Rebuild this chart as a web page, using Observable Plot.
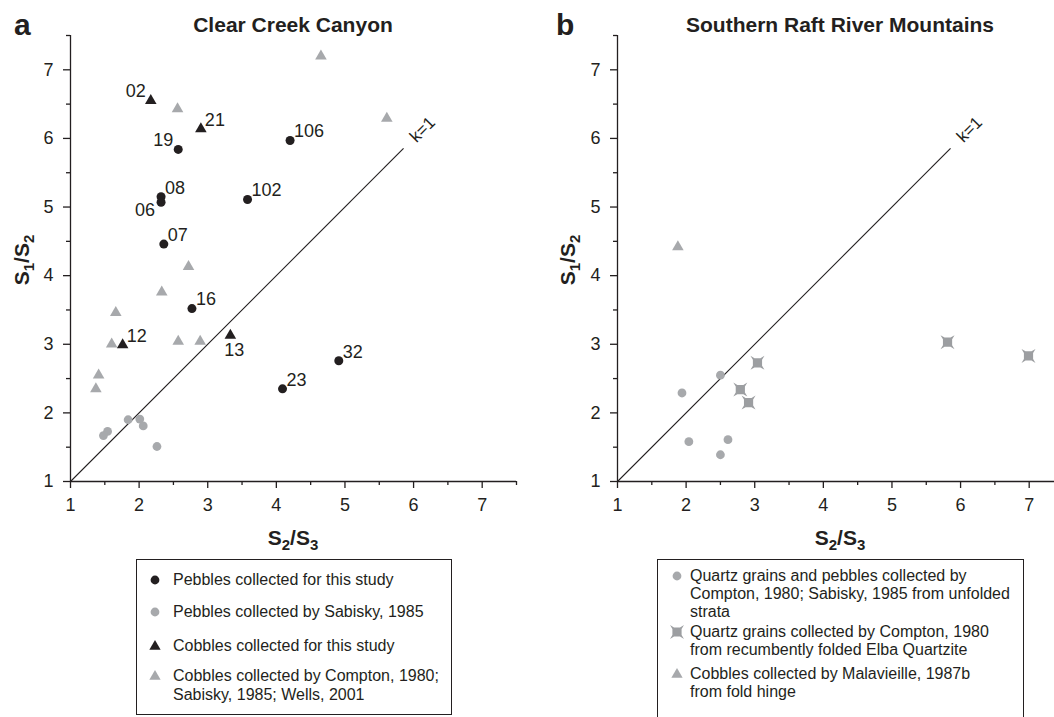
<!DOCTYPE html>
<html>
<head>
<meta charset="utf-8">
<script src="https://cdn.jsdelivr.net/npm/d3@7"></script>
<script src="https://cdn.jsdelivr.net/npm/@observablehq/plot@0.6"></script>
<style>
  html, body { margin: 0; padding: 0; background: #fff; overflow: hidden; }
  #root { position: relative; width: 1054px; height: 717px; overflow: hidden; background: #fff;
          font-family: "Liberation Sans", Arial, Helvetica, sans-serif; color: #231f20; }
  .abs { position: absolute; white-space: nowrap; }
  .title { font-weight: bold; font-size: 21px; transform: translate(-50%, -50%); }
  .panel { font-weight: bold; font-size: 30px; transform: translateY(-50%); }
  .axlab { font-weight: bold; font-size: 21px; }
  .axlab sub { font-size: 15px; vertical-align: -5px; line-height: 0; }
  .box { position: absolute; border: 1.2px solid #231f20; box-sizing: border-box; }
  .leg { position: absolute; font-size: 16px; white-space: nowrap; transform: translateY(-50%); }
  .sym { position: absolute; transform: translate(-50%, -50%); }
</style>
</head>
<body>
<div id="root"></div>
<script>
// ---------------- DATA ----------------
// Panel a : Clear Creek Canyon
const pebThisX   = [2.57, 4.20, 2.32, 2.32, 3.58, 2.36, 2.77, 4.91, 4.09];
const pebThisY   = [5.84, 5.97, 5.15, 5.07, 5.11, 4.46, 3.52, 2.76, 2.35];
const pebThisLbl = ["19", "106", "08", "06", "102", "07", "16", "32", "23"];
const pebThisPos = ["nw", "ne", "ne", "sw", "ne", "ne", "ne", "ne", "ne"];

const pebSabX = [1.84, 2.01, 2.06, 1.54, 1.48, 2.26];
const pebSabY = [1.90, 1.91, 1.81, 1.73, 1.67, 1.51];

const cobThisX   = [2.17, 2.90, 1.76, 3.33];
const cobThisY   = [6.55, 6.14, 2.99, 3.13];
const cobThisLbl = ["02", "21", "12", "13"];
const cobThisPos = ["nw", "ne", "ne", "s"];

const cobOtherX = [4.65, 2.56, 5.61, 2.72, 2.33, 1.66, 1.60, 2.57, 2.89, 1.41, 1.37];
const cobOtherY = [7.20, 6.43, 6.29, 4.13, 3.76, 3.46, 3.00, 3.04, 3.04, 2.55, 2.35];

// Panel b : Southern Raft River Mountains
const qzUnfX = [1.94, 2.50, 2.04, 2.61, 2.50];
const qzUnfY = [2.29, 2.55, 1.58, 1.61, 1.39];

const qzFoldX = [3.04, 2.79, 2.91, 5.81, 6.99];
const qzFoldY = [2.73, 2.34, 2.15, 3.03, 2.83];

const cobHingeX = [1.88];
const cobHingeY = [4.42];

// k = 1 reference line and axis ticks
const kLine = [1, 5.85];
const kLabelAt = [6.13];
const kLabel = "k=1";
const majorTicks = [1, 2, 3, 4, 5, 6, 7];
const minorTicks = [1.5, 2.5, 3.5, 4.5, 5.5, 6.5, 7.5];
const axisDomain = [1, 7.5];

const titleA = "Clear Creek Canyon";
const titleB = "Southern Raft River Mountains";
const legendA = [
  ["Pebbles collected for this study"],
  ["Pebbles collected by Sabisky, 1985"],
  ["Cobbles collected for this study"],
  ["Cobbles collected by Compton, 1980;", "Sabisky, 1985; Wells, 2001"]
];
const legendB = [
  ["Quartz grains and pebbles collected by", "Compton, 1980; Sabisky, 1985 from unfolded", "strata"],
  ["Quartz grains collected by Compton, 1980", "from recumbently folded Elba Quartzite"],
  ["Cobbles collected by Malavieille, 1987b", "from fold hinge"]
];

// ---------------- STYLE ----------------
const BLACK = "#231f20";
const GRAY = "#a7a9ac";
const STARGRAY = "#9c9ea1";
const FONT = "'Liberation Sans', Arial, Helvetica, sans-serif";

const starSymbol = {
  draw(ctx) {
    const h = 4.6, t = 7, c = 1.6;
    ctx.moveTo(-t, -t); ctx.lineTo(-h + c, -h); ctx.lineTo(h - c, -h);
    ctx.lineTo(t, -t); ctx.lineTo(h, -h + c); ctx.lineTo(h, h - c);
    ctx.lineTo(t, t); ctx.lineTo(h - c, h); ctx.lineTo(-h + c, h);
    ctx.lineTo(-t, t); ctx.lineTo(-h, h - c); ctx.lineTo(-h, -h + c);
    ctx.closePath();
  }
};

const zip = (xs, ys, extra = {}) => xs.map((x, i) => {
  const o = {x, y: ys[i]};
  for (const k in extra) o[k] = extra[k][i];
  return o;
});

const intFmt = d3.format("d");

function baseMarks() {
  const line = kLine.map(v => ({x: v, y: v}));
  const lab = kLabelAt.map(v => ({x: v, y: v, t: kLabel}));
  return [
    Plot.line(line, {x: "x", y: "y", stroke: BLACK, strokeWidth: 1.1}),
    Plot.text(lab, {x: "x", y: "y", text: "t", rotate: -45, fontSize: 17, fill: BLACK}),
    Plot.ruleX([axisDomain[0]], {stroke: BLACK, strokeWidth: 1.3}),
    Plot.ruleY([axisDomain[0]], {stroke: BLACK, strokeWidth: 1.3}),
    Plot.axisX({ticks: majorTicks, tickFormat: intFmt, tickSize: 7, tickPadding: 10, label: null, fontSize: 18, stroke: BLACK, fill: BLACK, strokeWidth: 1.3}),
    Plot.axisX({ticks: minorTicks, tickSize: 4, tickFormat: () => "", label: null, stroke: BLACK, strokeWidth: 1.3}),
    Plot.axisY({ticks: majorTicks, tickFormat: intFmt, tickSize: 7, tickPadding: 10, label: null, fontSize: 18, stroke: BLACK, fill: BLACK, strokeWidth: 1.3}),
    Plot.axisY({ticks: minorTicks, tickSize: 4, tickFormat: () => "", label: null, stroke: BLACK, strokeWidth: 1.3})
  ];
}

function labelMarks(data) {
  const place = {
    ne: {textAnchor: "start", dx: 4, dy: -9},
    nw: {textAnchor: "end", dx: -5, dy: -9},
    sw: {textAnchor: "end", dx: -6, dy: 8},
    s:  {textAnchor: "middle", dx: 4, dy: 15}
  };
  return Object.keys(place).map(p =>
    Plot.text(data.filter(d => d.pos === p), {x: "x", y: "y", text: "lbl", fontSize: 18, fill: BLACK, ...place[p]}));
}

const common = {
  width: 527, height: 555,
  marginLeft: 70, marginTop: 35, marginRight: 11, marginBottom: 74,
  x: {domain: axisDomain, axis: null},
  y: {domain: axisDomain, axis: null},
  style: {fontFamily: FONT, fontSize: "18px", background: "transparent", overflow: "visible"}
};

const pebThis = zip(pebThisX, pebThisY, {lbl: pebThisLbl, pos: pebThisPos});
const cobThis = zip(cobThisX, cobThisY, {lbl: cobThisLbl, pos: cobThisPos});

const plotA = Plot.plot({
  ...common,
  marks: [
    ...baseMarks(),
    Plot.dot(zip(pebSabX, pebSabY), {x: "x", y: "y", r: 4.4, fill: GRAY}),
    Plot.dot(zip(cobOtherX, cobOtherY), {x: "x", y: "y", r: 4.3, symbol: "triangle", fill: GRAY}),
    Plot.dot(pebThis, {x: "x", y: "y", r: 4.5, fill: BLACK}),
    Plot.dot(cobThis, {x: "x", y: "y", r: 4.3, symbol: "triangle", fill: BLACK}),
    ...labelMarks(pebThis),
    ...labelMarks(cobThis)
  ]
});

const plotB = Plot.plot({
  ...common,
  marks: [
    ...baseMarks(),
    Plot.dot(zip(qzUnfX, qzUnfY), {x: "x", y: "y", r: 4.4, fill: GRAY}),
    Plot.dot(zip(qzFoldX, qzFoldY), {x: "x", y: "y", symbol: starSymbol, fill: STARGRAY}),
    Plot.dot(zip(cobHingeX, cobHingeY), {x: "x", y: "y", r: 4.3, symbol: "triangle", fill: GRAY})
  ]
});

// ---------------- LAYOUT ----------------
const root = document.getElementById("root");
function place(el, left, top) { el.style.position = "absolute"; el.style.left = left + "px"; el.style.top = top + "px"; root.appendChild(el); return el; }
function div(cls, html, left, top) { const d = document.createElement("div"); d.className = cls; d.innerHTML = html; return place(d, left, top); }

place(plotA, 0, 0);
place(plotB, 547, 0);

div("abs panel", "a", 14, 25);
div("abs panel", "b", 556, 25);
div("abs title", titleA, 293, 25);
div("abs title", titleB, 840, 25);

const yl = "S<sub>1</sub>/S<sub>2</sub>";
const xl = "S<sub>2</sub>/S<sub>3</sub>";
[22, 568].forEach(x => {
  const d = div("abs axlab", yl, x, 260);
  d.style.transform = "translate(-50%, -50%) rotate(-90deg)";
});
[293, 840].forEach(x => {
  const d = div("abs axlab", xl, x, 538);
  d.style.transform = "translate(-50%, -50%)";
});

// Legend boxes
function box(left, top, w, h) { const b = document.createElement("div"); b.className = "box"; b.style.width = w + "px"; b.style.height = h + "px"; return place(b, left, top); }
box(136, 559, 316, 156);
box(657, 559, 367, 170);

function sym(kind, fill, cx, cy) {
  let inner;
  if (kind === "circle") inner = `<circle cx="8" cy="8" r="4.4" fill="${fill}"/>`;
  else if (kind === "triangle") inner = `<path d="${d3.symbol(d3.symbolTriangle, Math.PI * 4.2 * 4.2)()}" transform="translate(8,8.6)" fill="${fill}"/>`;
  else { const p = d3.path(); starSymbol.draw(p); inner = `<path d="${p}" transform="translate(8,8)" fill="${fill}"/>`; }
  const s = document.createElement("div");
  s.className = "sym";
  s.innerHTML = `<svg width="16" height="16" style="display:block">${inner}</svg>`;
  return place(s, cx, cy);
}

// Legend A
const symA = [["circle", BLACK], ["circle", GRAY], ["triangle", BLACK], ["triangle", GRAY]];
const rowsA = [580, 612, 646, 676];
legendA.forEach((lines, i) => {
  sym(symA[i][0], symA[i][1], 155, rowsA[i]);
  lines.forEach((t, j) => div("leg", t, 173, rowsA[i] + j * 19));
});

// Legend B
const symB = [["circle", GRAY], ["star", STARGRAY], ["triangle", GRAY]];
const rowsB = [576, 632, 674];
legendB.forEach((lines, i) => {
  sym(symB[i][0], symB[i][1], 677, rowsB[i]);
  lines.forEach((t, j) => div("leg", t, 690, rowsB[i] + j * 18));
});
</script>
</body>
</html>
